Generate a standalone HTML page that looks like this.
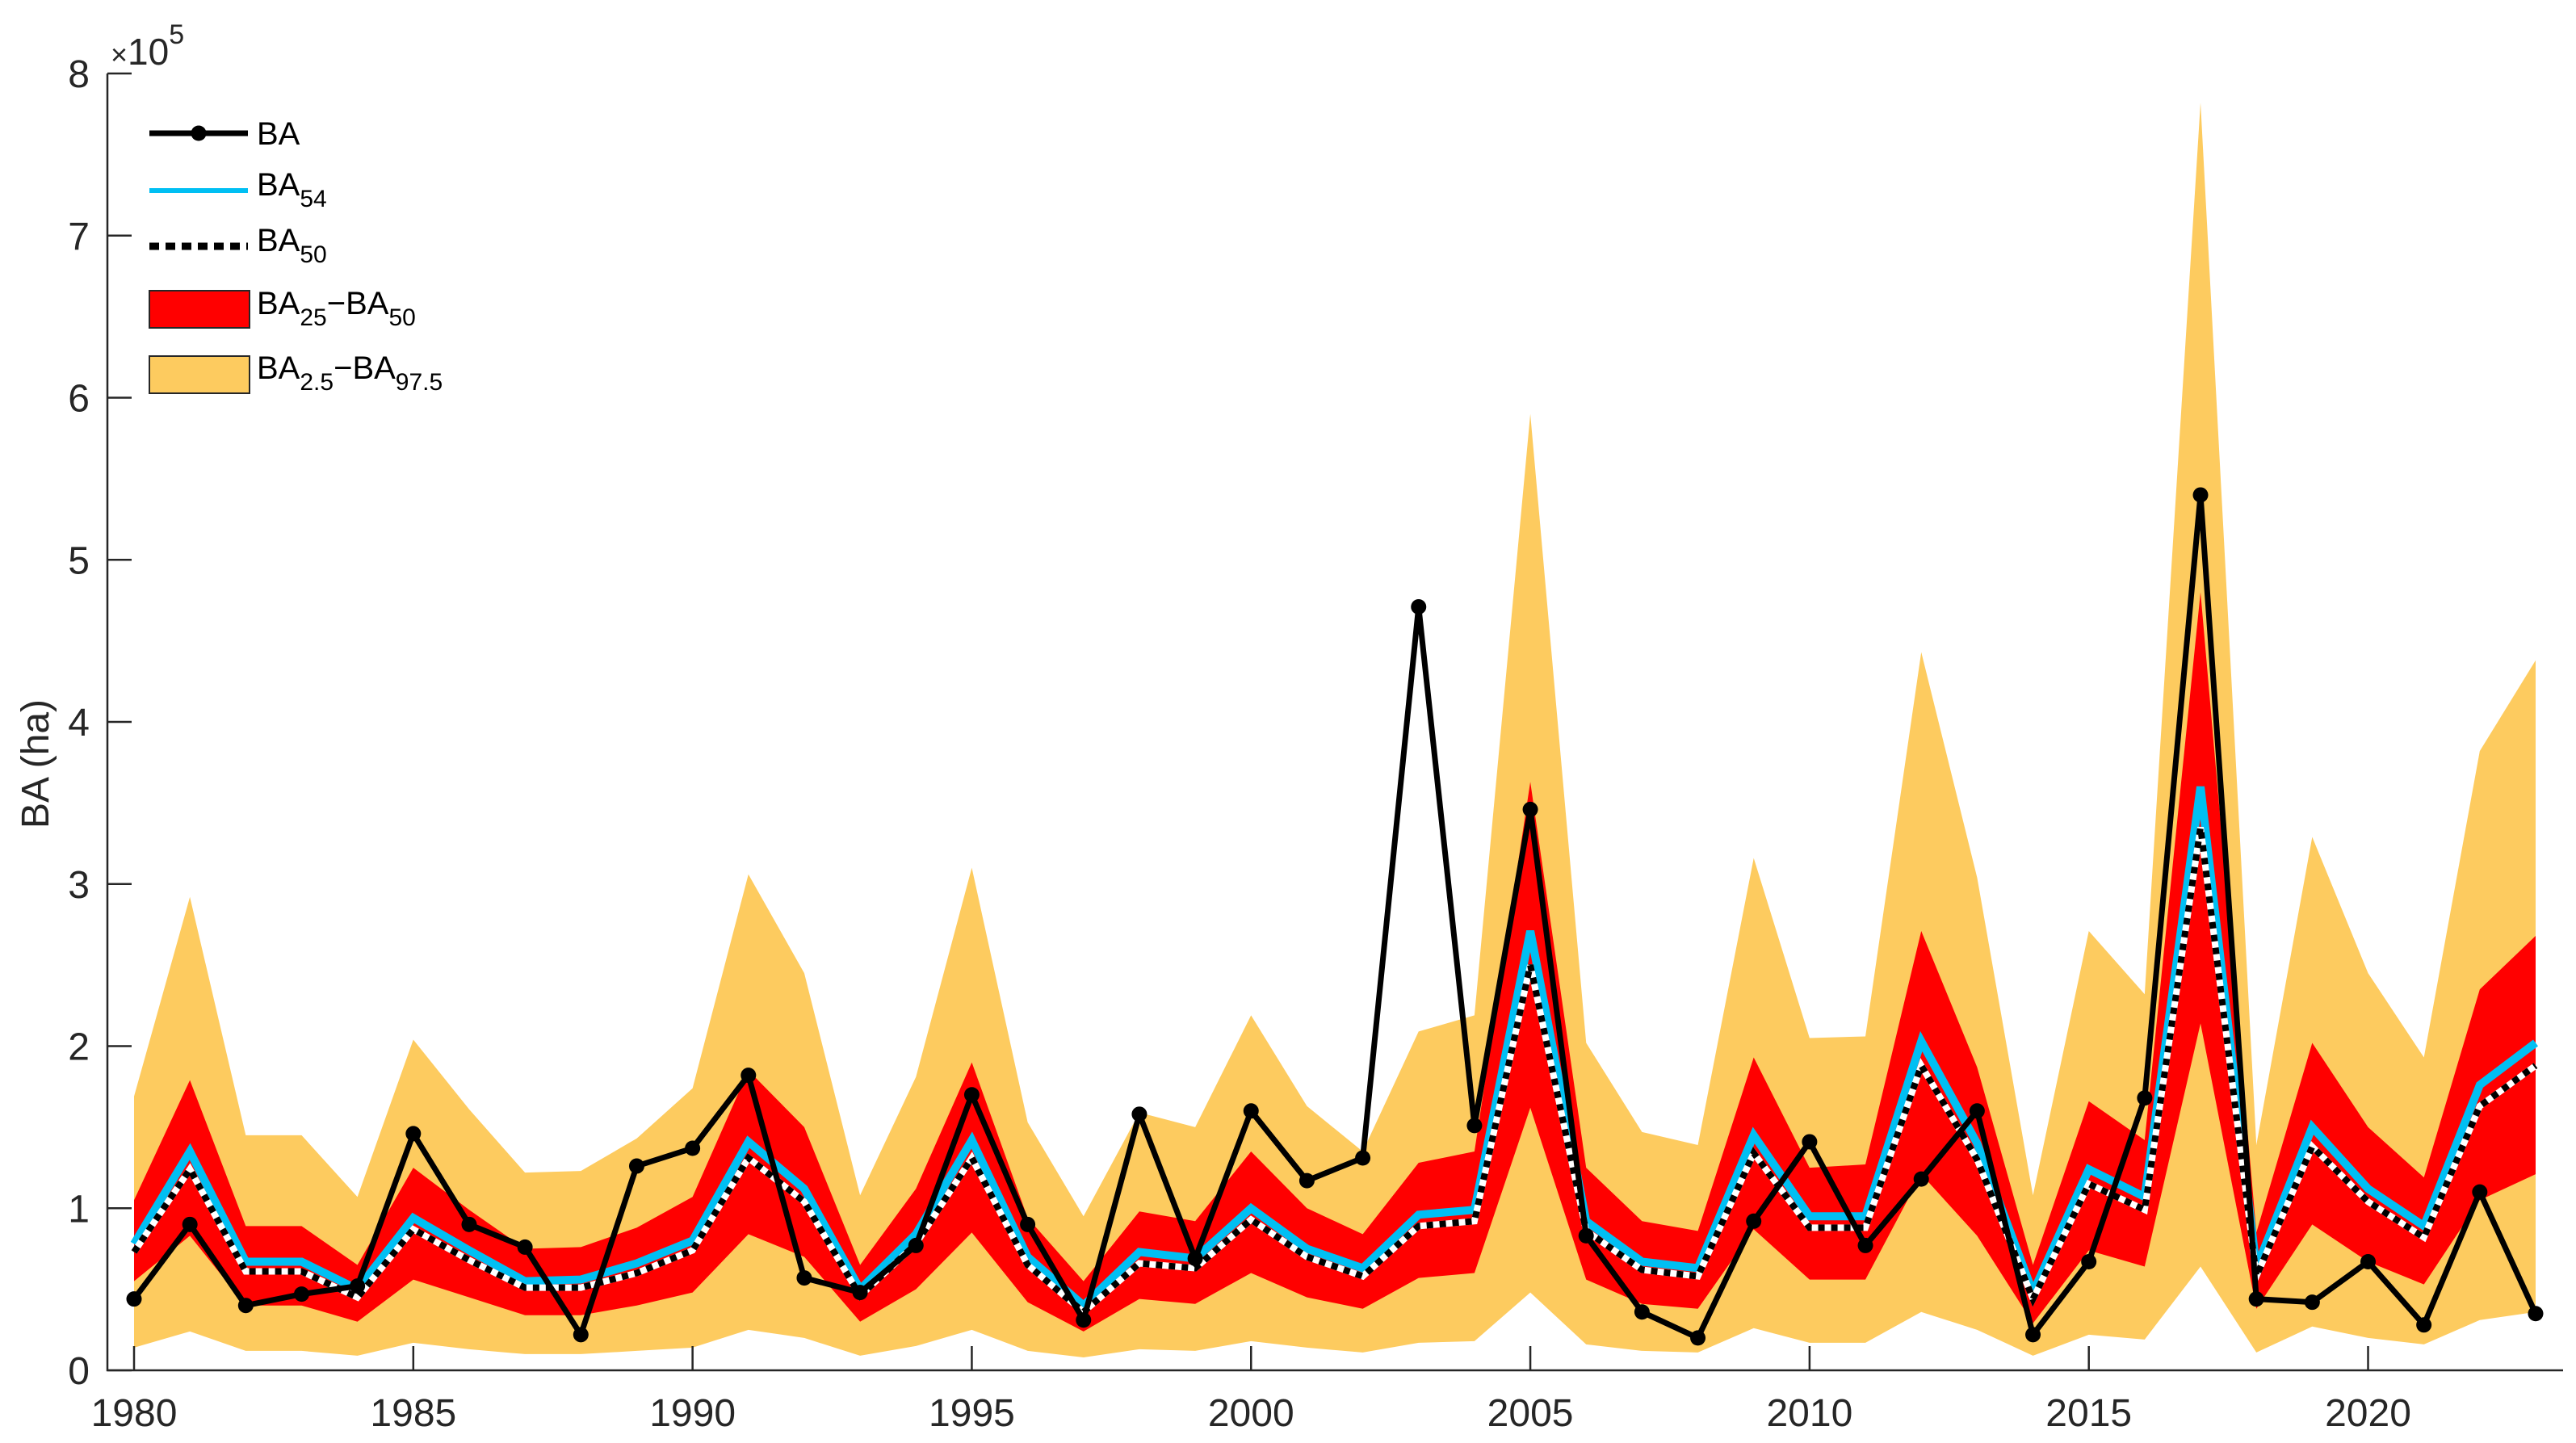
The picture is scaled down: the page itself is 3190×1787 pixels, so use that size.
<!DOCTYPE html>
<html><head><meta charset="utf-8">
<style>
html,body{margin:0;padding:0;background:#fff;}
svg{display:block;font-family:"Liberation Sans",Arial,sans-serif;}
</style></head>
<body>
<svg id="chart" width="3190" height="1787" viewBox="0 0 3190 1787" xmlns="http://www.w3.org/2000/svg">
<g id="bands"></g>
<g id="lines"></g>
<g id="axes"></g>
<g id="legend"></g>
</svg>
<script>
const years = [1980,1981,1982,1983,1984,1985,1986,1987,1988,1989,1990,1991,1992,1993,1994,1995,1996,1997,1998,1999,2000,2001,2002,2003,2004,2005,2006,2007,2008,2009,2010,2011,2012,2013,2014,2015,2016,2017,2018,2019,2020,2021,2022,2023];
const baObs = [0.44,0.90,0.40,0.47,0.52,1.46,0.90,0.76,0.22,1.26,1.37,1.82,0.57,0.48,0.77,1.70,0.90,0.31,1.58,0.69,1.60,1.17,1.31,4.71,1.51,3.46,0.83,0.36,0.20,0.92,1.41,0.77,1.18,1.60,0.22,0.67,1.68,5.40,0.44,0.42,0.67,0.28,1.10,0.35];
const ba54 = [0.78,1.35,0.67,0.67,0.50,0.94,0.74,0.55,0.56,0.66,0.80,1.41,1.12,0.50,0.84,1.42,0.70,0.40,0.73,0.69,1.00,0.75,0.63,0.96,0.99,2.71,0.92,0.67,0.63,1.45,0.95,0.95,2.03,1.40,0.48,1.24,1.07,3.60,0.63,1.50,1.12,0.89,1.76,2.02];
const ba50 = [0.73,1.24,0.61,0.61,0.45,0.87,0.68,0.51,0.51,0.60,0.74,1.31,1.04,0.46,0.78,1.31,0.65,0.36,0.66,0.63,0.93,0.70,0.58,0.89,0.92,2.50,0.86,0.62,0.58,1.34,0.88,0.88,1.88,1.30,0.44,1.15,0.99,3.35,0.58,1.38,1.04,0.82,1.63,1.88];
const redUpper = [1.05,1.79,0.89,0.89,0.65,1.25,0.99,0.75,0.76,0.88,1.07,1.85,1.50,0.65,1.12,1.90,0.94,0.55,0.98,0.92,1.35,1.00,0.84,1.28,1.35,3.63,1.25,0.92,0.86,1.93,1.25,1.27,2.71,1.87,0.65,1.66,1.42,4.80,0.85,2.02,1.50,1.19,2.35,2.68];
const redLower = [0.55,0.83,0.40,0.40,0.30,0.56,0.45,0.34,0.34,0.40,0.48,0.84,0.70,0.30,0.50,0.85,0.42,0.24,0.44,0.41,0.60,0.45,0.38,0.57,0.60,1.62,0.56,0.41,0.38,0.87,0.56,0.56,1.21,0.83,0.29,0.74,0.64,2.14,0.38,0.90,0.67,0.53,1.05,1.21];
const orUpper = [1.69,2.92,1.45,1.45,1.07,2.04,1.61,1.22,1.23,1.43,1.74,3.06,2.45,1.08,1.81,3.10,1.53,0.95,1.59,1.50,2.19,1.63,1.35,2.09,2.19,5.90,2.02,1.47,1.39,3.16,2.05,2.06,4.43,3.04,1.08,2.71,2.32,7.82,1.39,3.29,2.45,1.93,3.82,4.38];
const orLower = [0.14,0.24,0.12,0.12,0.09,0.17,0.13,0.10,0.10,0.12,0.14,0.25,0.20,0.09,0.15,0.25,0.12,0.08,0.13,0.12,0.18,0.14,0.11,0.17,0.18,0.48,0.16,0.12,0.11,0.26,0.17,0.17,0.36,0.25,0.09,0.22,0.19,0.64,0.11,0.27,0.20,0.16,0.31,0.36];
const xTicks = [1980,1985,1990,1995,2000,2005,2010,2015,2020];
const yTicks = [0,1,2,3,4,5,6,7,8];

const NS="http://www.w3.org/2000/svg";
const L=133,R=3174,T=91,B=1697;
const X0=166,X1=3140;
function xs(y){return X0+(y-1980)*(X1-X0)/(2023-1980);}
function ys(v){return B-v*(B-T)/8;}
function el(tag,attrs,parent){const e=document.createElementNS(NS,tag);for(const k in attrs)e.setAttribute(k,attrs[k]);parent.appendChild(e);return e;}
const bands=document.getElementById('bands'),lines=document.getElementById('lines'),axes=document.getElementById('axes'),legend=document.getElementById('legend');
function bandPath(up,lo){let d='';years.forEach((y,i)=>{d+=(i?'L':'M')+xs(y)+','+ys(up[i]);});for(let i=years.length-1;i>=0;i--)d+='L'+xs(years[i])+','+ys(lo[i]);return d+'Z';}
function linePts(arr){return years.map((y,i)=>xs(y)+','+ys(arr[i])).join(' ');}

const ob=el('path',{d:bandPath(orUpper,orLower),fill:'#fdcb5f'},bands);


const rb=el('path',{d:bandPath(redUpper,redLower),fill:'#ff0000'},bands);



const c=el('polyline',{points:linePts(ba54),fill:'none',stroke:'#00bff3','stroke-width':10,'stroke-linejoin':'miter'},lines);


const w=el('polyline',{points:linePts(ba50),fill:'none',stroke:'#fff','stroke-width':8},lines);


const d50=el('polyline',{points:linePts(ba50),fill:'none',stroke:'#000','stroke-width':8,'stroke-dasharray':'8 8'},lines);


const bl=el('polyline',{points:linePts(baObs),fill:'none',stroke:'#000','stroke-width':7,'stroke-linejoin':'round'},lines);


years.forEach((y,i)=>{
  const m=el('circle',{cx:xs(y),cy:ys(baObs[i]),r:9.5,fill:'#000'},lines);
  
  
});

const ax=el('path',{d:`M${L},${T}L${L},${B}L${R},${B}`,fill:'none',stroke:'#262626','stroke-width':2.5},axes);


yTicks.forEach(v=>{
  const t=el('line',{x1:L,x2:L+30,y1:ys(v),y2:ys(v),stroke:'#262626','stroke-width':2.5},axes);
  
  
  const tx=el('text',{x:L-22,y:ys(v)+17,'font-size':48,fill:'#262626','text-anchor':'end'},axes);
  tx.textContent=v;
  
  
});
xTicks.forEach(v=>{
  const t=el('line',{x1:xs(v),x2:xs(v),y1:B,y2:B-30,stroke:'#262626','stroke-width':2.5},axes);
  
  
  const tx=el('text',{x:xs(v),y:1766,'font-size':48,fill:'#262626','text-anchor':'middle'},axes);
  tx.textContent=v;
  
  
});
const mult=el('text',{x:137,y:80,'font-size':46,fill:'#262626'},axes);
mult.innerHTML='<tspan font-size="36">×</tspan>10<tspan dy="-26" font-size="34">5</tspan>';


const yl=el('text',{x:0,y:0,'font-size':48,fill:'#262626','text-anchor':'middle',transform:'translate(60,946) rotate(-90)'},axes);
yl.textContent='BA (ha)';



function legText(y,html,name){const t=el('text',{x:318,y:y+14,'font-size':40,fill:'#000'},legend);t.innerHTML=html;return t;}
let g;
g=el('line',{x1:185,x2:307,y1:165,y2:165,stroke:'#000','stroke-width':7},legend);


g=el('circle',{cx:246,cy:165,r:9.5,fill:'#000'},legend);


legText(165,'BA','legend-ba-label');
g=el('line',{x1:185,x2:307,y1:236,y2:236,stroke:'#00bff3','stroke-width':6},legend);


legText(228,'BA<tspan dy="14" font-size="30">54</tspan>','legend-ba54-label');
g=el('line',{x1:185,x2:307,y1:305,y2:305,stroke:'#000','stroke-width':9,'stroke-dasharray':'12 8'},legend);


legText(297,'BA<tspan dy="14" font-size="30">50</tspan>','legend-ba50-label');
g=el('rect',{x:185,y:360,width:124,height:46,fill:'#ff0000',stroke:'#262626','stroke-width':2},legend);


legText(375,'BA<tspan dy="14" font-size="30">25</tspan><tspan dy="-14">−BA</tspan><tspan dy="14" font-size="30">50</tspan>','legend-red-label');
g=el('rect',{x:185,y:441,width:124,height:46,fill:'#fdcb5f',stroke:'#262626','stroke-width':2},legend);


legText(455,'BA<tspan dy="14" font-size="30">2.5</tspan><tspan dy="-14">−BA</tspan><tspan dy="14" font-size="30">97.5</tspan>','legend-orange-label');
</script>
</body></html>
